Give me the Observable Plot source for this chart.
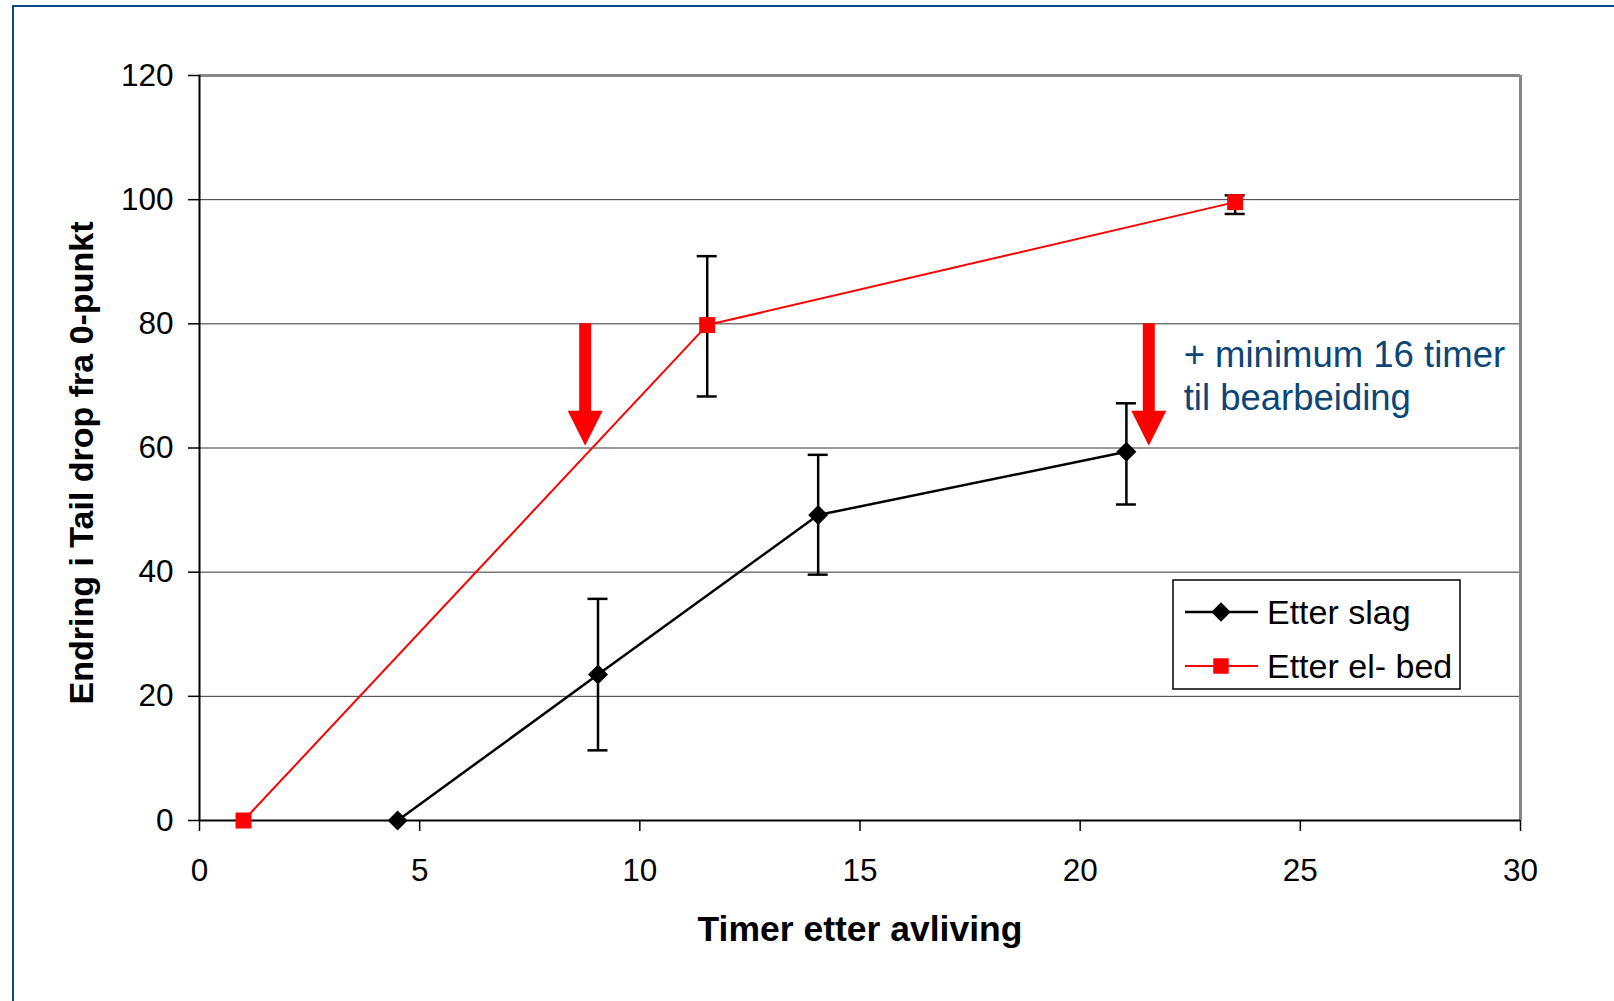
<!DOCTYPE html>
<html><head><meta charset="utf-8">
<script src="https://cdn.jsdelivr.net/npm/d3@7"></script>
<script src="https://cdn.jsdelivr.net/npm/@observablehq/plot@0.6"></script>
<style>
body{margin:0;background:#fff;}
#wrap{position:relative;width:1614px;height:1001px;overflow:hidden;font-family:"Liberation Sans",Arial,sans-serif;}
#frame{position:absolute;left:12px;top:5px;right:-10px;bottom:-10px;border-left:2px solid #0c4a84;border-top:2px solid #0c4a84;pointer-events:none;}
#wrap svg{position:absolute;left:0;top:0;}
</style></head>
<body><div id="wrap"><div id="frame"></div></div>
<script>
// ---- data ----
const xTicks = [0, 5, 10, 15, 20, 25, 30];
const yTicks = [0, 20, 40, 60, 80, 100, 120];
const gridValues = [20, 40, 60, 80, 100];

const seriesNames = ["Etter slag", "Etter el- bed"];
const seriesColors = ["#000000", "#ff0000"];

const slagHours = [4.5, 9.05, 14.05, 21.05];
const slagMean  = [0, 23.5, 49.2, 59.4];
const slagLow   = [null, 11.3, 39.6, 50.9];
const slagHigh  = [null, 35.7, 58.9, 67.2];

const elHours = [1.0, 11.53, 23.52];
const elMean  = [0, 79.8, 99.6];
const elLow   = [null, 68.3, 97.7];
const elHigh  = [null, 90.9, 100.7];

const arrowHours = [8.77, 21.57];
const arrowFrom = 80;
const arrowTo = 60.3;

const annotationText = "+ minimum 16 timer\ntil bearbeiding";
const annotationX = 22.35;
const annotationY = 66.05;

const xLabel = "Timer etter avliving";
const yLabel = "Endring i Tail drop fra 0-punkt";

// ---- tables ----
const slag = slagHours.map((x, i) => ({x, y: slagMean[i], lo: slagLow[i], hi: slagHigh[i]}));
const el = elHours.map((x, i) => ({x, y: elMean[i], lo: elLow[i], hi: elHigh[i]}));
const errs = [...slag, ...el].filter(d => d.lo != null);

const FONT = '"Liberation Sans", Arial, sans-serif';

function arrowsMark(index, scales) {
  const g = d3.create("svg:g").attr("fill", "#ff0000");
  for (const h of arrowHours) {
    const cx = scales.x(h), y0 = scales.y(arrowFrom), y1 = scales.y(arrowTo);
    const headH = 35, headW = 17.5, shaftW = 6;
    g.append("path").attr("d",
      `M${cx - shaftW},${y0} L${cx + shaftW},${y0} L${cx + shaftW},${y1 - headH} L${cx + headW},${y1 - headH} L${cx},${y1} L${cx - headW},${y1 - headH} L${cx - shaftW},${y1 - headH} Z`);
  }
  return g.node();
}

function legendMark(index, scales, values, dims) {
  const g = d3.create("svg:g");
  const left = dims.width - dims.marginRight - 347;
  const top = dims.marginTop + 505;
  g.append("rect").attr("x", left).attr("y", top).attr("width", 287).attr("height", 109)
    .attr("fill", "#fff").attr("stroke", "#000").attr("stroke-width", 1.5);
  const symbols = [d3.symbol(d3.symbolDiamond2, 240), d3.symbol(d3.symbolSquare, 240)];
  seriesNames.forEach((name, i) => {
    const cy = top + 32 + i * 54;
    g.append("line").attr("x1", left + 12).attr("x2", left + 85).attr("y1", cy).attr("y2", cy)
      .attr("stroke", seriesColors[i]).attr("stroke-width", i === 0 ? 2.5 : 2);
    g.append("path").attr("d", symbols[i]()).attr("transform", `translate(${left + 48},${cy})`)
      .attr("fill", seriesColors[i]);
    g.append("text").attr("x", left + 94).attr("y", cy).attr("dy", "0.35em")
      .attr("text-anchor", "start")
      .attr("font-size", 34).attr("font-family", FONT).attr("fill", "#000").text(name);
  });
  return g.node();
}

const plot = Plot.plot({
  width: 1614, height: 1001,
  marginLeft: 199, marginRight: 94, marginTop: 75, marginBottom: 181,
  style: {fontFamily: FONT, background: "transparent", overflow: "visible"},
  x: {domain: [0, 30]},
  y: {domain: [0, 120]},
  marks: [
    Plot.gridY(gridValues, {stroke: "#000", strokeOpacity: 0.8, strokeWidth: 1}),
    Plot.ruleY([120], {stroke: "#888", strokeWidth: 3}),
    Plot.ruleX([30], {stroke: "#888", strokeWidth: 3}),
    Plot.axisX(xTicks, {tickSize: 11, tickPadding: 27, fontSize: 31.5, color: "#000", strokeWidth: 1.5, label: null}),
    Plot.axisY(yTicks, {tickSize: 11, tickPadding: 15, fontSize: 31.5, color: "#000", strokeWidth: 1.5, label: null}),
    Plot.ruleX([0], {stroke: "#000", strokeWidth: 2}),
    Plot.ruleY([0], {stroke: "#000", strokeWidth: 2}),
    arrowsMark,
    Plot.line(slag, {x: "x", y: "y", stroke: seriesColors[0], strokeWidth: 2.5}),
    Plot.line(el, {x: "x", y: "y", stroke: seriesColors[1], strokeWidth: 2}),
    Plot.ruleX(errs, {x: "x", y1: "lo", y2: "hi", stroke: "#000", strokeWidth: 2.5}),
    Plot.ruleY(errs, {y: "lo", x1: "x", x2: "x", insetLeft: -10, insetRight: -10, stroke: "#000", strokeWidth: 2.5}),
    Plot.ruleY(errs, {y: "hi", x1: "x", x2: "x", insetLeft: -10, insetRight: -10, stroke: "#000", strokeWidth: 2.5}),
    Plot.dot(slag, {x: "x", y: "y", symbol: "diamond2", r: 9, fill: seriesColors[0], stroke: "none"}),
    Plot.dot(el, {x: "x", y: "y", symbol: "square", r: 9, fill: seriesColors[1], stroke: "none"}),
    Plot.text([annotationText], {x: annotationX, y: annotationY, textAnchor: "start", lineAnchor: "bottom",
      lineHeight: 1.2, fontSize: 36.5, fill: "#0b4677"}),
    legendMark,
    Plot.text([yLabel], {frameAnchor: "left", textAnchor: "middle", lineAnchor: "middle", rotate: -90, dx: -117, dy: 15, fontSize: 34, fontWeight: "bold", fill: "#000"}),
    Plot.text([xLabel], {frameAnchor: "bottom", textAnchor: "middle", lineAnchor: "middle", dy: 109, fontSize: 35.5, fontWeight: "bold", fill: "#000"})
  ]
});
document.getElementById("wrap").appendChild(plot);
</script>
</body></html>
